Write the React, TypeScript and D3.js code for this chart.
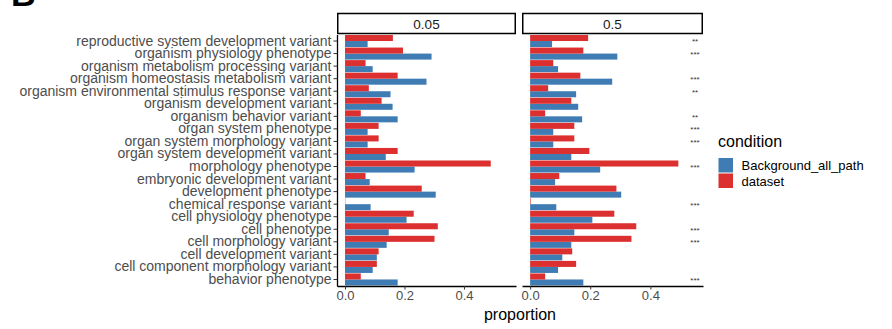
import React, { useRef, useEffect } from "react";
import * as d3 from "d3";

const categories = [
  "reproductive system development variant",
  "organism physiology phenotype",
  "organism metabolism processing variant",
  "organism homeostasis metabolism variant",
  "organism environmental stimulus response variant",
  "organism development variant",
  "organism behavior variant",
  "organ system phenotype",
  "organ system morphology variant",
  "organ system development variant",
  "morphology phenotype",
  "embryonic development variant",
  "development phenotype",
  "chemical response variant",
  "cell physiology phenotype",
  "cell phenotype",
  "cell morphology variant",
  "cell development variant",
  "cell component morphology variant",
  "behavior phenotype",
];

const panels = ["0.05", "0.5"];
const conditions = ["Background_all_path", "dataset"];

const background005 = [0.076, 0.291, 0.093, 0.274, 0.153, 0.16, 0.177, 0.076, 0.076, 0.137, 0.234, 0.083, 0.305, 0.086, 0.207, 0.147, 0.14, 0.107, 0.093, 0.177];
const dataset005 = [0.161, 0.195, 0.069, 0.177, 0.08, 0.123, 0.053, 0.113, 0.113, 0.177, 0.49, 0.069, 0.258, 0.001, 0.231, 0.312, 0.301, 0.113, 0.107, 0.053];
const background05 = [0.073, 0.29, 0.093, 0.273, 0.153, 0.16, 0.173, 0.077, 0.077, 0.137, 0.233, 0.083, 0.303, 0.087, 0.207, 0.147, 0.137, 0.107, 0.093, 0.177];
const dataset05 = [0.193, 0.177, 0.077, 0.167, 0.06, 0.137, 0.05, 0.147, 0.147, 0.197, 0.493, 0.097, 0.287, 0.002, 0.28, 0.353, 0.337, 0.14, 0.153, 0.05];
const stars05 = ["**", "***", "", "***", "**", "", "**", "***", "***", "", "***", "", "", "***", "", "***", "***", "", "", "***"];

const xTicks = [0, 0.2, 0.4];

const colors: Record<string, string> = {
  Background_all_path: "#3F7CB4",
  dataset: "#DC2F2F",
};

const FONT = "'Liberation Sans', Arial, Helvetica, sans-serif";

export default function App() {
  const svgRef = useRef<SVGSVGElement>(null);

  useEffect(() => {
    const svg = d3.select(svgRef.current);
    svg.selectAll("*").remove();

    const top = 34.5;
    const bottom = 286;
    const panelX = [
      [337, 516],
      [522, 703],
    ];
    const values = [
      { Background_all_path: background005, dataset: dataset005 },
      { Background_all_path: background05, dataset: dataset05 },
    ];

    const y = d3.scaleBand().domain(categories).range([top, bottom]).padding(0.04);
    const sub = d3
      .scaleBand()
      .domain(["dataset", "Background_all_path"])
      .range([0, y.bandwidth()]);

    // title letter, cut at the top
    svg
      .append("text")
      .attr("x", 11)
      .attr("y", 6)
      .attr("font-family", FONT)
      .attr("font-weight", "bold")
      .attr("font-size", 34)
      .attr("fill", "black")
      .text("B");

    panels.forEach((p, pi) => {
      const [x0, x1] = panelX[pi];
      const x = d3.scaleLinear().domain([-0.027, 0.575]).range([x0, x1]);
      const g = svg.append("g");

      // strip
      g.append("rect")
        .attr("x", x0 + 0.75)
        .attr("y", 13.5)
        .attr("width", x1 - x0 - 1.5)
        .attr("height", 20)
        .attr("fill", "white")
        .attr("stroke", "black")
        .attr("stroke-width", 1.5);
      g.append("text")
        .attr("x", (x0 + x1) / 2)
        .attr("y", 28.5)
        .attr("text-anchor", "middle")
        .attr("font-family", FONT)
        .attr("font-size", 13.5)
        .attr("fill", "#1a1a1a")
        .text(p);

      // bars
      conditions.forEach((c) => {
        const vals = (values[pi] as Record<string, number[]>)[c];
        g.append("g")
          .selectAll("rect")
          .data(categories)
          .join("rect")
          .attr("x", x(0))
          .attr("y", (d) => (y(d) as number) + (sub(c) as number))
          .attr("width", (_, i) => Math.max(0, x(vals[i]) - x(0)))
          .attr("height", sub.bandwidth())
          .attr("fill", colors[c]);
      });

      // x axis
      const ax = g
        .append("g")
        .attr("transform", `translate(0,${bottom})`)
        .call(
          d3
            .axisBottom(x)
            .tickValues(xTicks)
            .tickFormat(d3.format(".1f"))
            .tickSize(3.5)
            .tickPadding(1.5)
            .tickSizeOuter(0)
        );
      ax.select(".domain").attr("stroke", "black").attr("stroke-width", 1.3);
      ax.selectAll(".tick line").attr("stroke", "#333");
      ax.selectAll(".tick text")
        .attr("font-family", FONT)
        .attr("font-size", 13)
        .attr("fill", "#4d4d4d");

      if (pi === 0) {
        const ay = g
          .append("g")
          .attr("transform", `translate(${x0},0)`)
          .call(d3.axisLeft(y).tickSize(3.5).tickSizeOuter(0).tickPadding(2));
        ay.select(".domain").attr("stroke", "black").attr("stroke-width", 1.3);
        ay.selectAll(".tick line").attr("stroke", "#333");
        ay.selectAll(".tick text")
          .attr("font-family", FONT)
          .attr("font-size", 14)
          .attr("fill", "#4d4d4d");
      } else {
        g.append("g")
          .selectAll("text")
          .data(categories)
          .join("text")
          .attr("x", 695)
          .attr("y", (d) => (y(d) as number) + y.bandwidth() / 2 + 3.4)
          .attr("text-anchor", "middle")
          .attr("font-family", FONT)
          .attr("font-size", 8)
          .attr("fill", "#333")
          .text((_, i) => stars05[i]);
      }
    });

    // x title
    svg
      .append("text")
      .attr("x", 520)
      .attr("y", 320)
      .attr("text-anchor", "middle")
      .attr("font-family", FONT)
      .attr("font-size", 16)
      .attr("fill", "black")
      .text("proportion");

    // legend
    const lg = svg.append("g");
    lg.append("text")
      .attr("x", 718)
      .attr("y", 147)
      .attr("font-family", FONT)
      .attr("font-size", 16)
      .attr("fill", "black")
      .text("condition");
    conditions.forEach((c, i) => {
      lg.append("rect")
        .attr("x", 718.5)
        .attr("y", 158 + i * 15.5)
        .attr("width", 14.5)
        .attr("height", 14.5)
        .attr("fill", colors[c]);
      lg.append("text")
        .attr("x", 741.5)
        .attr("y", 170 + i * 15.5)
        .attr("font-family", FONT)
        .attr("font-size", 13)
        .attr("fill", "black")
        .text(c);
    });
  }, []);

  return (
    <svg
      ref={svgRef}
      width={892}
      height={329}
      style={{ position: "absolute", left: 0, top: 0, background: "white" }}
    />
  );
}
